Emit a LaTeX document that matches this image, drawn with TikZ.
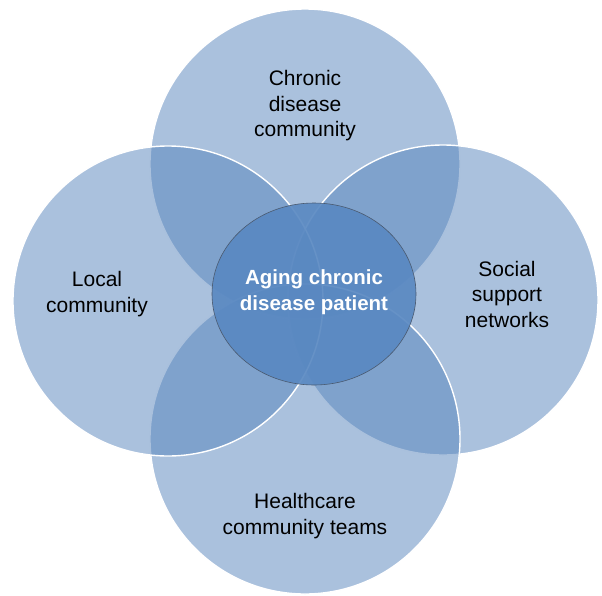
\documentclass[tikz,border=0pt]{standalone}
\usepackage{fontspec}
\setmainfont{Liberation Sans}
\usetikzlibrary{shapes.geometric}
\definecolor{circfill}{HTML}{5583BB}
\definecolor{centfill}{HTML}{5A89C2}
\definecolor{centline}{HTML}{4A5A70}
\tikzset{
  bigcircle/.style={circle, minimum size=310pt, inner sep=0pt, fill=circfill, fill opacity=0.5, draw=white, draw opacity=1, line width=1.4pt},
  lbl/.style={align=center, text=black, font=\fontsize{21}{25.5}\selectfont, inner sep=0pt},
  hub/.style={ellipse, minimum width=204pt, minimum height=182pt, inner sep=0pt, fill=centfill, fill opacity=0.92, draw=centline, draw opacity=1, line width=0.6pt},
  hubtext/.style={inner sep=0pt, text=white, align=center, font=\bfseries\fontsize{20.5}{26}\selectfont}
}
\begin{document}
\begin{tikzpicture}[x=1pt, y=-1pt]
\useasboundingbox (0,0) rectangle (602,595);
\node[bigcircle] (top) at (305,164) {};
\node[bigcircle] (right) at (443,300) {};
\node[bigcircle] (bottom) at (305,439) {};
\node[bigcircle] (left) at (168,301) {};
\node[hub] (center) at (314,294) {};
\node[hubtext] (ctext) at (314,292) {Aging chronic\\disease patient};
\node[lbl] (ttop) at (305,106) {Chronic\\disease\\community};
\node[lbl] (tleft) at (97,294) {Local\\community};
\node[lbl] (tright) at (507,294) {Social\\support\\networks};
\node[lbl] (tbottom) at (305,516) {Healthcare\\community teams};
\end{tikzpicture}
\end{document}
